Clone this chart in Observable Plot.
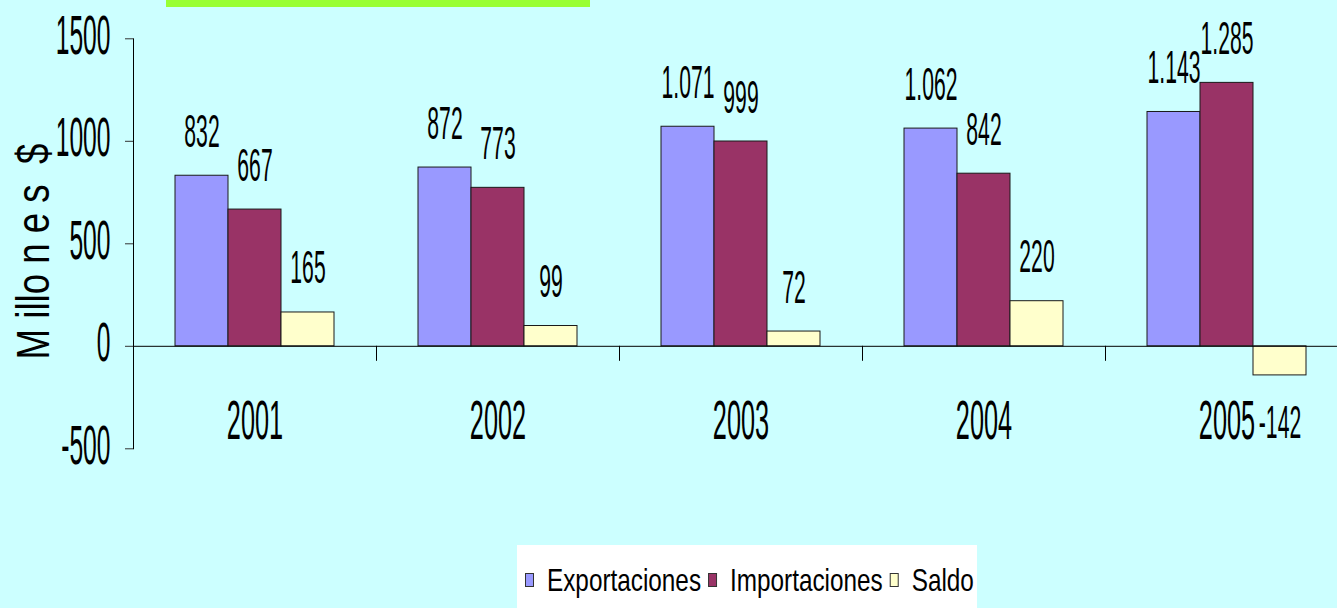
<!DOCTYPE html>
<html>
<head>
<meta charset="utf-8">
<script src="https://cdn.jsdelivr.net/npm/d3@7"></script>
<script src="https://cdn.jsdelivr.net/npm/@observablehq/plot@0.6"></script>
<style>
  html, body { margin: 0; padding: 0; background: #CCFFFF; width: 1337px; height: 608px; overflow: hidden; position: relative; }
  #topbar { height: 7px; width: 424px; margin-left: 166px; background: #99FF33; }
  #chart svg { display: block; }
  #legend { position: absolute; left: 517px; top: 545px; width: 460px; height: 63px; background: #FFFFFF; }
  #legend svg { display: block; font-family: "Liberation Sans", Arial, sans-serif; }
</style>
</head>
<body>
<div id="topbar"></div>
<div id="chart"></div>
<div id="legend"></div>
<script>
// ---- data ----
const years = ["2001", "2002", "2003", "2004", "2005"];
const series = ["Exportaciones", "Importaciones", "Saldo"];
const exportaciones = [832, 872, 1071, 1062, 1143];
const importaciones = [667, 773, 999, 842, 1285];
const saldo = [165, 99, 72, 220, -142];
const yTicks = [-500, 0, 500, 1000, 1500];
const yDomain = [-500, 1500];
const yTitle = "M illo n e s  $";
const colors = ["#9999FF", "#993366", "#FFFFCC"];

const valuesBySeries = [exportaciones, importaciones, saldo];
const data = years.flatMap((yr, i) =>
  series.map((s, j) => ({year: yr, serie: s, value: valuesBySeries[j][i]}))
);

const fmt = d3.formatLocale({decimal: ",", thousands: ".", grouping: [3], currency: ["$", ""], minus: "-"}).format(",d");

const chart = Plot.plot({
  width: 1337,
  height: 538,
  marginTop: 31.3,
  marginBottom: 96.7,
  marginLeft: 133,
  marginRight: 0,
  style: {background: "transparent", fontFamily: "'Liberation Sans', Arial, sans-serif", fontSize: "56px", color: "#000", overflow: "visible"},
  fx: {domain: years, range: [133, 1348], padding: 0, axis: null, label: null},
  x: {domain: series, paddingInner: 0, paddingOuter: 0.771, axis: null, label: null},
  y: {domain: yDomain, ticks: yTicks, tickSize: 8, tickPadding: 15, line: true, label: null, tickFormat: d => String(d)},
  color: {domain: series, range: colors},
  marks: [
    Plot.barY(data, {fx: "year", x: "serie", y: "value", fill: "serie", stroke: "#1a1a1a", strokeWidth: 1}),
    Plot.ruleY([0], {stroke: "#000", strokeWidth: 1}),
    Plot.text(data.filter(d => d.value >= 0), {fx: "year", x: "serie", y: "value", text: d => fmt(d.value), textAnchor: "middle", lineAnchor: "bottom", dy: -29, fontSize: 46, fill: "#000"}),
    Plot.text(data.filter(d => d.value < 0), {fx: "year", x: "serie", y: "value", text: d => fmt(d.value), textAnchor: "middle", lineAnchor: "top", dy: 30, fontSize: 46, fill: "#000"}),
    Plot.text(years, {fx: d => d, text: d => d, frameAnchor: "bottom", textAnchor: "middle", lineAnchor: "bottom", dy: -10, fontSize: 55, fill: "#000"}),
    Plot.text([yTitle], {fx: () => years[0], text: d => d, frameAnchor: "left", textAnchor: "middle", rotate: -90, dx: -99.7, dy: 7.7, fontSize: 47, fill: "#000"})
  ]
});

document.getElementById("chart").appendChild(chart);

const svg = chart.tagName.toLowerCase() === "svg" ? chart : chart.querySelector("svg");

function squeeze(el, s, dy) {
  const x = parseFloat(el.getAttribute("x")) || 0;
  const y = parseFloat(el.getAttribute("y")) || 0;
  const t = el.getAttribute("transform") || "";
  el.setAttribute("transform", `${t} translate(${x},${y + (dy || 0)}) scale(${s},1) translate(${-x},${-y})`);
}

// y-axis labels
svg.querySelectorAll('[aria-label^="y-axis"] text').forEach(el => {
  el.style.fontSize = "56px";
  squeeze(el, 0.44, -3);
});
svg.querySelectorAll('[aria-label^="y-axis"] path, [aria-label^="y-axis"] line').forEach(el => {
  el.setAttribute("stroke", "#333");
});
// value labels (46px), category labels (55px), y title (47px)
svg.querySelectorAll('g[font-size="46"] text').forEach(el => squeeze(el, 0.46, 0));
svg.querySelectorAll('g[font-size="55"] text').forEach(el => squeeze(el, 0.46, 0));
svg.querySelectorAll('g[font-size="47"] text').forEach(el => squeeze(el, 0.78, 0));

// category boundary ticks below the zero line, placed with Plot's own scales
const fxS = chart.scale("fx");
const yS = chart.scale("y");
const y0 = yS.apply(0);
const g = d3.select(svg).append("g").attr("aria-label", "x-ticks");
years.forEach(yr => {
  const x = Math.round(fxS.apply(yr)) + 0.5;
  g.append("line").attr("x1", x).attr("x2", x).attr("y1", y0).attr("y2", y0 + 15).attr("stroke", "#000");
});

// legend
const leg = d3.select("#legend").append("svg").attr("width", 460).attr("height", 63);
let lx = 8;
series.forEach((s, i) => {
  leg.append("rect").attr("x", lx + 0.5).attr("y", 28.5).attr("width", 8).attr("height", 13)
    .attr("fill", colors[i]).attr("stroke", "#333");
  lx += 8 + 14;
  const t = leg.append("text").attr("transform", `translate(${lx},46) scale(0.76,1)`)
    .attr("font-size", 32).attr("fill", "#000").text(s);
  lx += t.node().getComputedTextLength() * 0.76 + 7;
});
</script>
</body>
</html>
